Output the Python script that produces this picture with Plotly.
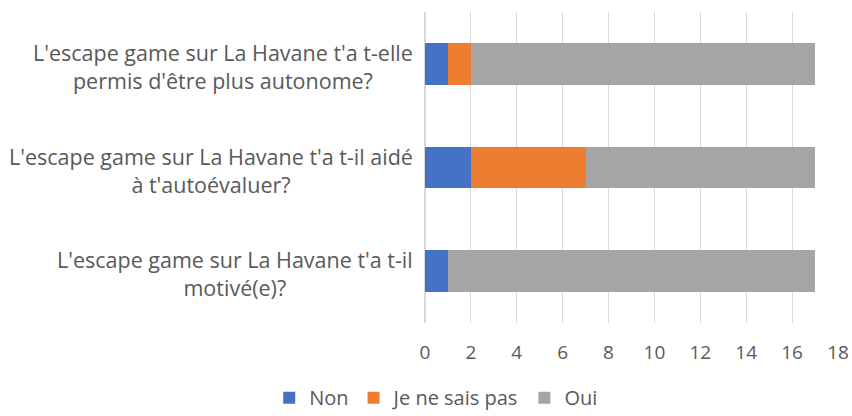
import plotly.graph_objects as go

categories = [
    "L'escape game sur La Havane t'a t-il<br>motivé(e)?",
    "L'escape game sur La Havane t'a t-il aidé<br>à t'autoévaluer?",
    "L'escape game sur La Havane t'a t-elle<br>permis d'être plus autonome?",
]
non = [1, 2, 1]
jnsp = [0, 5, 1]
oui = [16, 10, 15]
x_ticks = [0, 2, 4, 6, 8, 10, 12, 14, 16, 18]

fig = go.Figure()
for name, vals, col in [("Non", non, "#4472C4"), ("Je ne sais pas", jnsp, "#ED7D31"), ("Oui", oui, "#A5A5A5")]:
    fig.add_trace(go.Bar(y=categories, x=vals, name=name, orientation="h",
                         marker=dict(color=col, line=dict(width=0))))

font_family = "Open Sans, Liberation Sans, Arial, sans-serif"
text_col = "#595959"

for c in categories:
    fig.add_annotation(text=c, xref="paper", x=0, xshift=-10, xanchor="right",
                       yref="y", y=c, yanchor="middle", align="center", showarrow=False,
                       yshift=-2.5, font=dict(family=font_family, size=21.5, color=text_col))

fig.update_layout(
    barmode="stack",
    bargap=0.6,
    width=852, height=416,
    margin=dict(l=425, r=14, t=12, b=93, autoexpand=False),
    paper_bgcolor="white", plot_bgcolor="white",
    font=dict(family=font_family, size=19, color=text_col),
    xaxis=dict(range=[0, 18], tickvals=x_ticks, showgrid=True, gridcolor="#D9D9D9", gridwidth=1,
               zeroline=True, zerolinecolor="#D9D9D9", showline=False, ticks="",
               tickfont=dict(size=19, color=text_col), ticklabelstandoff=16),
    yaxis=dict(categoryorder="array", categoryarray=categories, showgrid=False, zeroline=False,
               ticks="", showticklabels=False),
    legend=dict(orientation="h", xref="container", x=0.512, xanchor="center",
                yref="paper", y=-0.24, yanchor="middle",
                font=dict(size=20, color=text_col), traceorder="normal", itemwidth=30),
    showlegend=True,
)
fig.write_html("out.html", config={"displayModeBar": False},
               post_script="document.body.style.margin='0';")
